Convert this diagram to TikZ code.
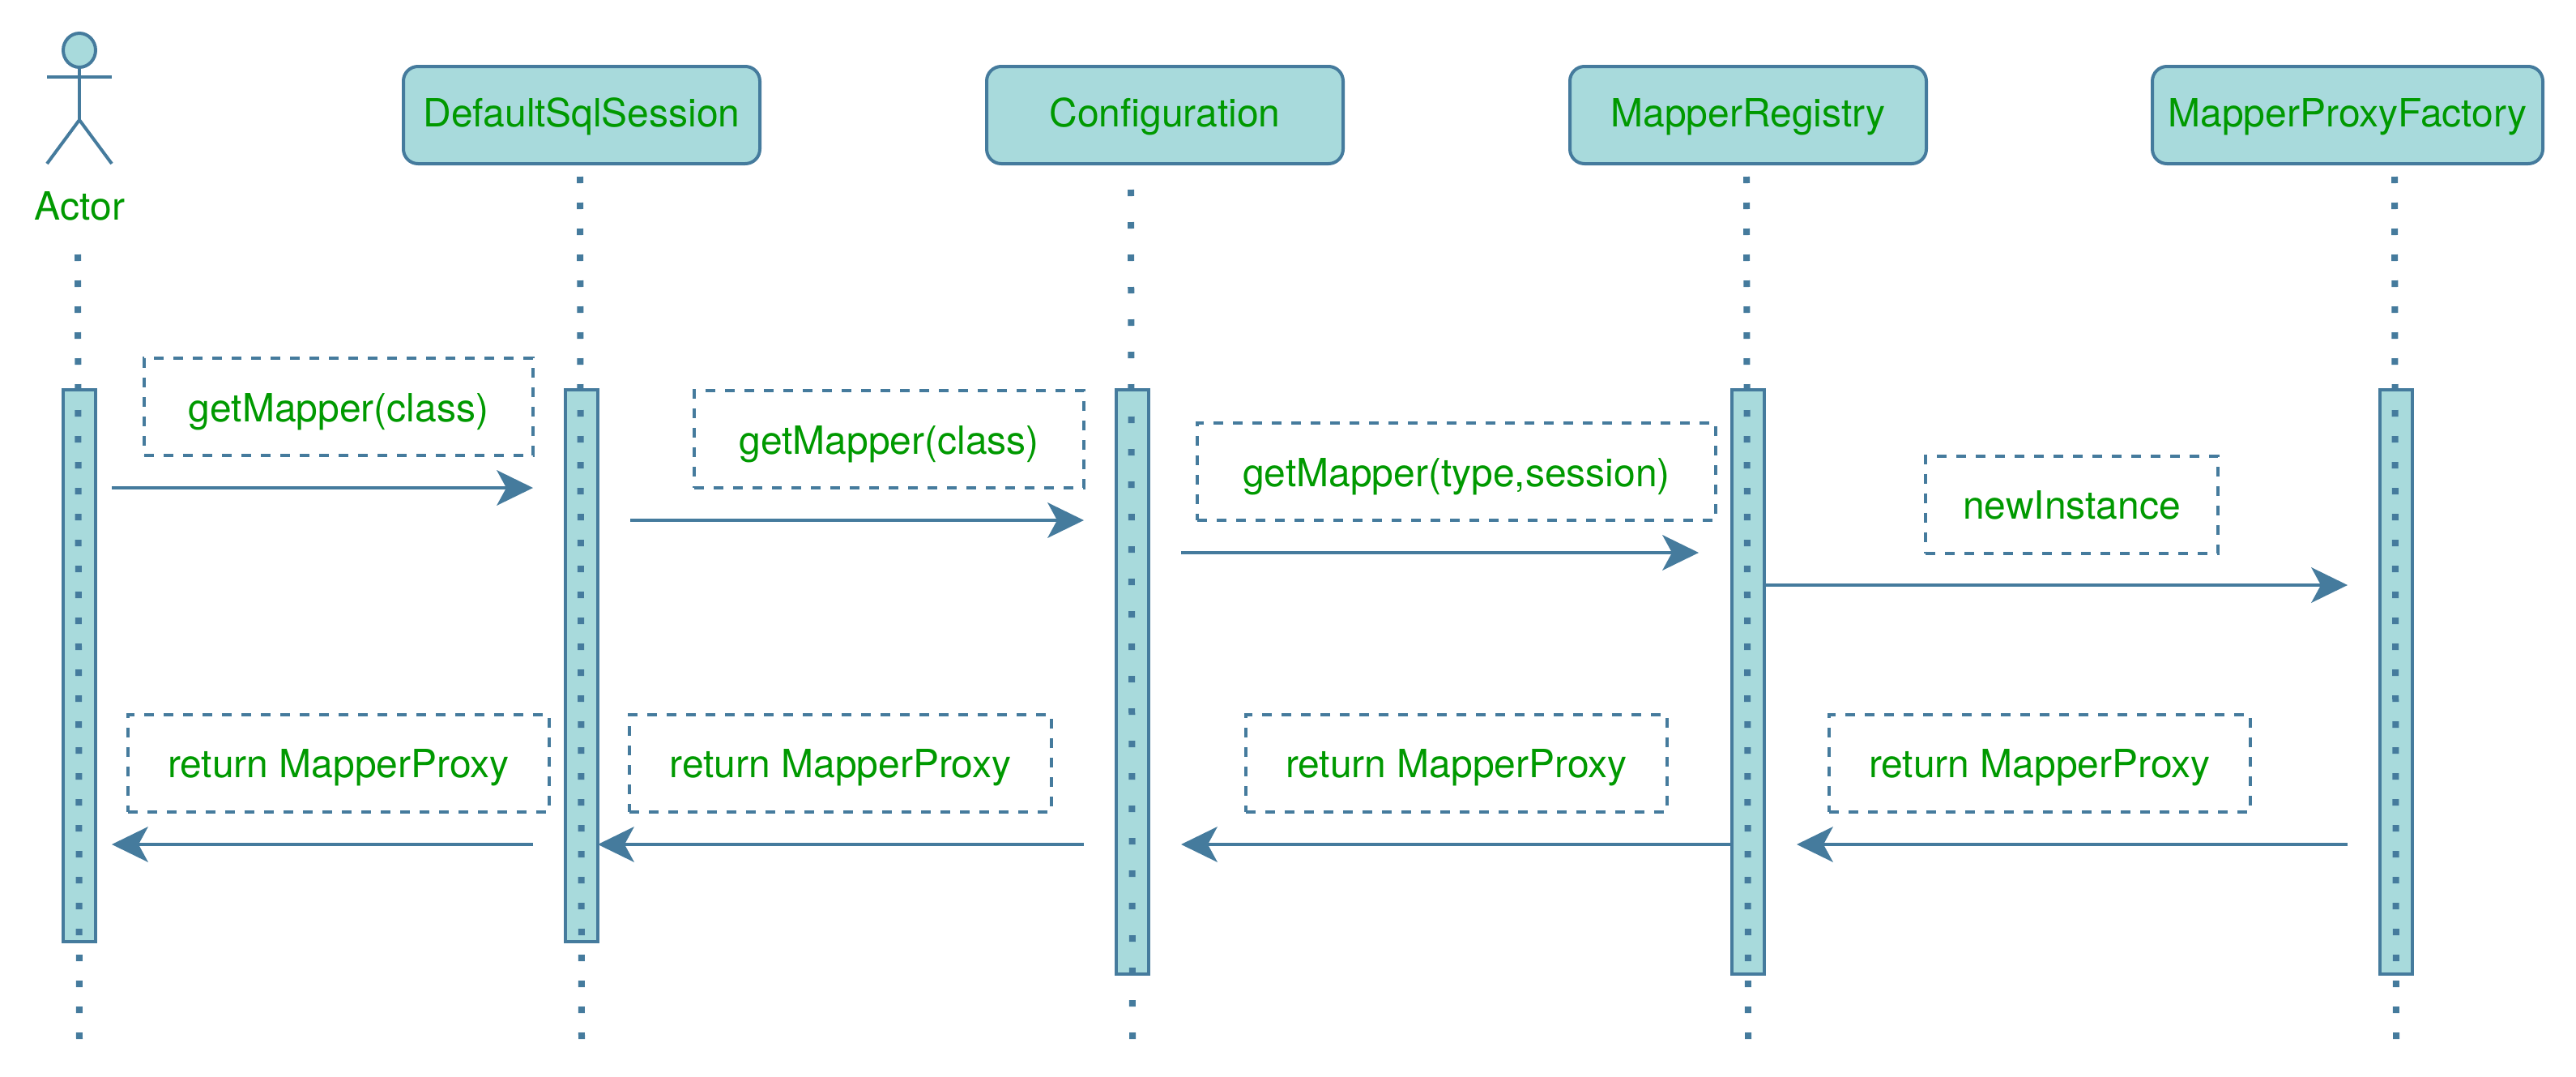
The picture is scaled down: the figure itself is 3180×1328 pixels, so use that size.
\documentclass[tikz,border=0pt]{standalone}
\usepackage{fontspec}
\setmainfont{TeX Gyre Heros}
\usetikzlibrary{arrows.meta,shapes.geometric}
\definecolor{fillc}{HTML}{A8DADC}
\definecolor{linec}{HTML}{457B9D}
\definecolor{textc}{HTML}{009900}
\tikzset{
  base/.style={inner sep=0pt,outer sep=0pt,text=textc,font=\fontsize{48}{48}\selectfont,align=center},
  head/.style={base,draw=linec,fill=fillc,line width=4pt,rounded corners=18pt,minimum width=440pt,minimum height=120pt,text height=28pt,text depth=0pt},
  note/.style={base,draw=linec,line width=4pt,dash pattern=on 12pt off 12pt,minimum height=120pt,text height=38pt,text depth=2pt},
  retnote/.style={note,text height=36pt,text depth=2pt},
  activ/.style={draw=linec,fill=fillc,line width=4pt,minimum width=40pt,inner sep=0pt,outer sep=0pt},
  life/.style={draw=linec,line width=8pt,dash pattern=on 8pt off 24pt},
  lifewide/.style={draw=linec,line width=8pt,dash pattern=on 8pt off 32pt},
  msg/.style={draw=linec,line width=4pt,-{Stealth[length=45pt,width=44pt,inset=12pt,line width=0pt]}},
  figure/.style={draw=linec,line width=4pt}
}
\begin{document}
\begin{tikzpicture}[x=1pt,y=-1pt]
\useasboundingbox (0,0) rectangle (3180,1328);
% activation bars
\node[activ,minimum height=681pt] (a1) at (98,821.5) {};
\node[activ,minimum height=681pt] (a2) at (718,821.5) {};
\node[activ,minimum height=721pt] (a3) at (1398,841.5) {};
\node[activ,minimum height=721pt] (a4) at (2158,841.5) {};
\node[activ,minimum height=721pt] (a5) at (2958,841.5) {};
% actor
\node[draw=linec,fill=fillc,line width=4pt,ellipse,minimum width=40pt,minimum height=42pt,inner sep=0pt,outer sep=0pt] (ahead) at (98,62) {};
\coordinate (ahip) at (98,148);
\coordinate (aL) at (58,95);
\coordinate (aR) at (138,95);
\coordinate (fL) at (58,202);
\coordinate (fR) at (138,202);
\draw[figure] (ahead.south) -- (ahip);
\draw[figure] (aL) -- (aR);
\draw[figure] (fL) -- (ahip) -- (fR);
\node[base,anchor=base] (actor) at (98.5,271) {Actor};
% heads
\node[head] (h2) at (718,142) {DefaultSqlSession};
\node[head] (h3) at (1438,142) {Configuration};
\node[head] (h4) at (2158,142) {MapperRegistry};
\node[head,minimum width=482pt] (h5) at (2898,142) {MapperProxyFactory};
% lifelines
\coordinate (l1a) at (96,314); \coordinate (l1b) at (98,1282);
\coordinate (l2a) at (716,218); \coordinate (l2b) at (718,1282);
\coordinate (l3a) at (1396,234); \coordinate (l3b) at (1398,1282);
\coordinate (l4a) at (2156,218); \coordinate (l4b) at (2158,1282);
\coordinate (l5a) at (2956,218); \coordinate (l5b) at (2958,1282);
\draw[life] (l1a) -- (l1b);
\draw[life] (l2a) -- (l2b);
\draw[lifewide] (l3a) -- (l3b);
\draw[life] (l4a) -- (l4b);
\draw[life] (l5a) -- (l5b);
% notes
\node[note,minimum width=480pt] (n1) at (418,502) {getMapper(class)};
\node[note,minimum width=481pt] (n2) at (1097.5,542) {getMapper(class)};
\node[note,minimum width=640pt] (n3) at (1798,582) {getMapper(type,session)};
\node[note,minimum width=361pt] (n4) at (2557.5,622.5) {newInstance};
\node[retnote,minimum width=520pt] (r1) at (418,942) {return MapperProxy};
\node[retnote,minimum width=521pt] (r2) at (1037.5,942) {return MapperProxy};
\node[retnote,minimum width=520pt] (r3) at (1798,942) {return MapperProxy};
\node[retnote,minimum width=520pt] (r4) at (2518,942) {return MapperProxy};
% messages
\coordinate (m1a) at (138,602); \coordinate (m1b) at (658,602);
\coordinate (m2a) at (778,642); \coordinate (m2b) at (1338,642);
\coordinate (m3a) at (1458,682); \coordinate (m3b) at (2097,682);
\coordinate (m4a) at (2178,722); \coordinate (m4b) at (2898,722);
\coordinate (k1a) at (658,1042); \coordinate (k1b) at (138,1042);
\coordinate (k2a) at (1338,1042); \coordinate (k2b) at (738,1042);
\coordinate (k3a) at (2137,1042); \coordinate (k3b) at (1458,1042);
\coordinate (k4a) at (2898,1042); \coordinate (k4b) at (2218,1042);
\draw[msg] (m1a) -- (m1b);
\draw[msg] (m2a) -- (m2b);
\draw[msg] (m3a) -- (m3b);
\draw[msg] (m4a) -- (m4b);
\draw[msg] (k1a) -- (k1b);
\draw[msg] (k2a) -- (k2b);
\draw[msg] (k3a) -- (k3b);
\draw[msg] (k4a) -- (k4b);
\end{tikzpicture}
\end{document}
